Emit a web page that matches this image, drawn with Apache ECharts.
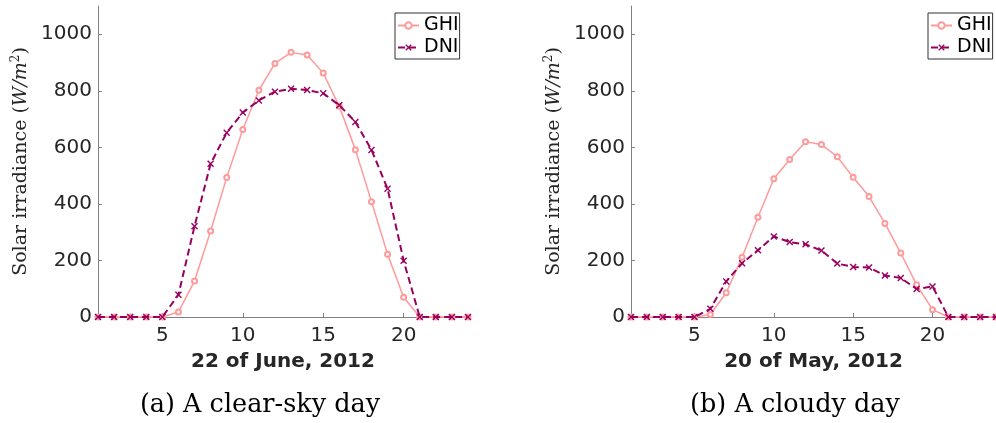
<!DOCTYPE html>
<html>
<head>
<meta charset="utf-8">
<script src="https://cdn.jsdelivr.net/npm/echarts@6/dist/echarts.min.js"></script>
<style>
html,body{margin:0;padding:0;background:#fff;}
#chart{width:996px;height:423px;}
</style>
</head>
<body>
<div id="chart"></div>
<script>
// ---- data ----
const hours = [1,2,3,4,5,6,7,8,9,10,11,12,13,14,15,16,17,18,19,20,21,22,23,24];
const ghiJune = [0,0,0,0,0,18,127,304,493,663,802,897,936,927,863,745,592,408,222,70,0,0,0,0];
const dniJune = [0,0,0,0,0,79,321,542,652,723,766,797,807,803,791,749,690,591,454,199,0,0,0,0];
const ghiMay  = [0,0,0,0,0,9,86,211,353,489,557,620,610,567,494,426,331,226,114,26,0,0,0,0];
const dniMay  = [0,0,0,0,0,29,126,190,236,285,265,257,235,189,177,175,147,138,99,108,0,0,0,0];
const xTicks = [5,10,15,20];
const yTicks = [0,200,400,600,800,1000];
const seriesNames = ['GHI','DNI'];
const xTitles = ['22 of June, 2012','20 of May, 2012'];
const captions = ['(a) A clear-sky day','(b) A cloudy day'];

const GHI_COLOR = '#ff9a9a';
const DNI_COLOR = '#98005f';
const AXIS_COLOR = '#808080';
const TEXT_COLOR = '#262626';
const SANS = 'DejaVu Sans';
const SERIF = 'DejaVu Serif';
const X_SHAPE = 'path://M0,1.4L1.4,0L5,3.6L8.6,0L10,1.4L6.4,5L10,8.6L8.6,10L5,6.4L1.4,10L0,8.6L3.6,5Z';

const gridLefts = [98, 631];

function pairs(vals){ return hours.map((h,i)=>[h, vals[i]]); }
const plain = v => String(v);

const grids = gridLefts.map(l => ({left:l, top:6, width:370, height:311, containLabel:false}));

const xAxes = gridLefts.map((l,i) => ({
  type:'value', gridIndex:i, min:1, max:24,
  name: xTitles[i], nameLocation:'middle', nameGap:35,
  nameTextStyle:{fontFamily:SANS, fontWeight:'bold', fontSize:20, color:TEXT_COLOR},
  axisLine:{show:true, lineStyle:{color:AXIS_COLOR, width:1}},
  axisTick:{show:true, inside:true, length:4, customValues:xTicks, lineStyle:{color:AXIS_COLOR}},
  axisLabel:{show:true, customValues:xTicks, formatter:plain, margin:9, fontFamily:SANS, fontSize:20, color:TEXT_COLOR},
  splitLine:{show:false}
}));

const yAxes = gridLefts.map((l,i) => ({
  type:'value', gridIndex:i, min:0, max:1100,
  name:'{t|Solar irradiance (}{i|W/m}{s|2}{t|)}', nameLocation:'middle', nameGap:66, nameRotate:90,
  nameTextStyle:{
    fontFamily:SERIF, fontSize:19, color:TEXT_COLOR,
    rich:{
      t:{fontFamily:SERIF, fontSize:19, color:TEXT_COLOR},
      i:{fontFamily:SERIF, fontSize:19, fontStyle:'italic', color:TEXT_COLOR},
      s:{fontFamily:SERIF, fontSize:12, color:TEXT_COLOR, padding:[0,0,10,0]}
    }
  },
  axisLine:{show:true, lineStyle:{color:AXIS_COLOR, width:1}},
  axisTick:{show:true, inside:true, length:4, customValues:yTicks, lineStyle:{color:AXIS_COLOR}},
  axisLabel:{show:true, customValues:yTicks, formatter:plain, margin:6, fontFamily:SANS, fontSize:20, color:TEXT_COLOR},
  splitLine:{show:false}
}));

function ghiSeries(vals, idx){
  return {
    name:seriesNames[0], type:'line', xAxisIndex:idx, yAxisIndex:idx,
    data:pairs(vals), symbol:'emptyCircle', symbolSize:5, showSymbol:true,
    lineStyle:{color:GHI_COLOR, width:1.5}, itemStyle:{color:GHI_COLOR, borderColor:GHI_COLOR, borderWidth:1},
    z:2, animation:false, clip:false
  };
}
function dniSeries(vals, idx){
  return {
    name:seriesNames[1], type:'line', xAxisIndex:idx, yAxisIndex:idx,
    data:pairs(vals), symbol:X_SHAPE, symbolSize:7, showSymbol:true,
    lineStyle:{color:DNI_COLOR, width:2, type:[7,4]}, itemStyle:{color:DNI_COLOR},
    z:3, animation:false, clip:false
  };
}

const legendLefts = [395, 928];
const legends = legendLefts.map(l => ({
  data:seriesNames, orient:'vertical', left:l, top:13,
  itemWidth:21, itemHeight:8, itemGap:3,
  padding:[3,1,2,2],
  borderColor:'#333', borderWidth:1, backgroundColor:'#fff',
  textStyle:{fontFamily:SANS, fontSize:19, color:'#000'},
  selectedMode:false
}));

const captionX = [260, 795];
const graphics = captions.map((c,i) => ({
  type:'text',
  x: captionX[i], y: 405,
  style:{text:c, font:'25.5px "'+SERIF+'"', fill:'#000', textAlign:'center', textVerticalAlign:'middle'}
}));

const option = {
  backgroundColor:'#fff',
  animation:false,
  grid:grids,
  xAxis:xAxes,
  yAxis:yAxes,
  legend:legends,
  series:[ghiSeries(ghiJune,0), dniSeries(dniJune,0), ghiSeries(ghiMay,1), dniSeries(dniMay,1)],
  graphic:graphics
};

const chart = echarts.init(document.getElementById('chart'), null, {renderer:'canvas'});
chart.setOption(option);
</script>
</body>
</html>
